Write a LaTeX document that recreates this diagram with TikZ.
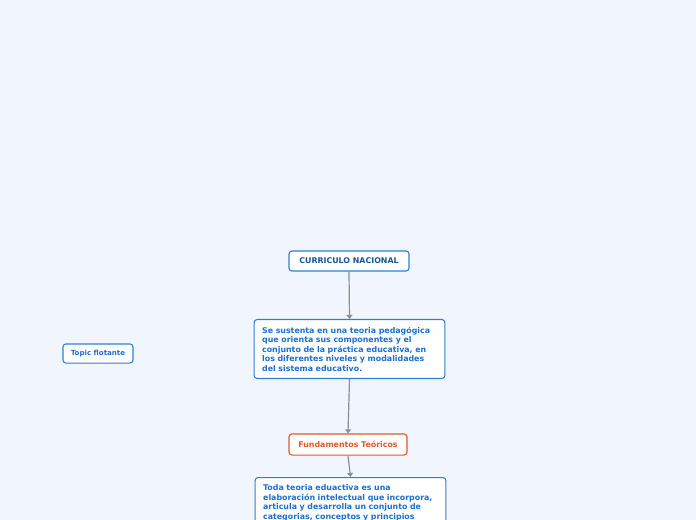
\documentclass[tikz,border=0pt]{standalone}
\usepackage{fontspec}
\setmainfont{DejaVu Sans}
\usetikzlibrary{arrows.meta}
\definecolor{bg}{HTML}{F0F5FE}
\definecolor{bluebd}{HTML}{2F7FD6}
\definecolor{bluetx}{HTML}{1D6FD0}
\definecolor{darktx}{HTML}{18559A}
\definecolor{orangebd}{HTML}{E4572A}
\definecolor{arrowc}{HTML}{8E8E92}
\tikzset{
  topic/.style={draw=bluebd, line width=0.8pt, fill=white, rounded corners=2.2pt,
    font=\fontsize{5.9pt}{7.1pt}\selectfont\bfseries, text=bluetx, inner sep=0pt},
  mainbox/.style={topic, text=darktx},
  floatbox/.style={topic, font=\fontsize{5.3pt}{6.5pt}\selectfont\bfseries},
  orangebox/.style={topic, draw=orangebd, text=orangebd},
  textbox/.style={topic, align=left, text width=131pt, inner xsep=6pt, inner ysep=5.5pt},
  conn/.style={draw=arrowc, line width=0.9pt, -{Triangle[width=4.5pt,length=3pt]}}
}
\begin{document}
\begin{tikzpicture}[x=0.75pt,y=-0.75pt]
\fill[bg] (0,0) rectangle (696,520);
\useasboundingbox (0,0) rectangle (696,520);
\node[mainbox, minimum width=90pt, minimum height=15pt] (cn) at (349,261) {CURRICULO NACIONAL};
\node[textbox, minimum height=43.5pt, anchor=north] (ss) at (349.5,319) {Se sustenta en una teoria pedagógica\\que orienta sus componentes y el\\conjunto de la práctica educativa, en\\los diferentes niveles y modalidades\\del sistema educativo.};
\node[floatbox, minimum width=52.5pt, minimum height=14.3pt] (tf) at (98,353.5) {Topic flotante};
\node[orangebox, minimum width=88.5pt, minimum height=15.8pt] (ft) at (348,444.5) {Fundamentos Teóricos};
\node[textbox, anchor=north, text width=131pt] (tt) at (350.5,477) {Toda teoria eduactiva es una\\elaboración intelectual que incorpora,\\articula y desarrolla un conjunto de\\categorias, conceptos y principios};
\draw[conn] (cn.south) -- (ss.north);
\draw[conn] (ss.south) -- (ft.north);
\draw[conn] (ft.south) -- (tt.north);
\end{tikzpicture}
\end{document}
